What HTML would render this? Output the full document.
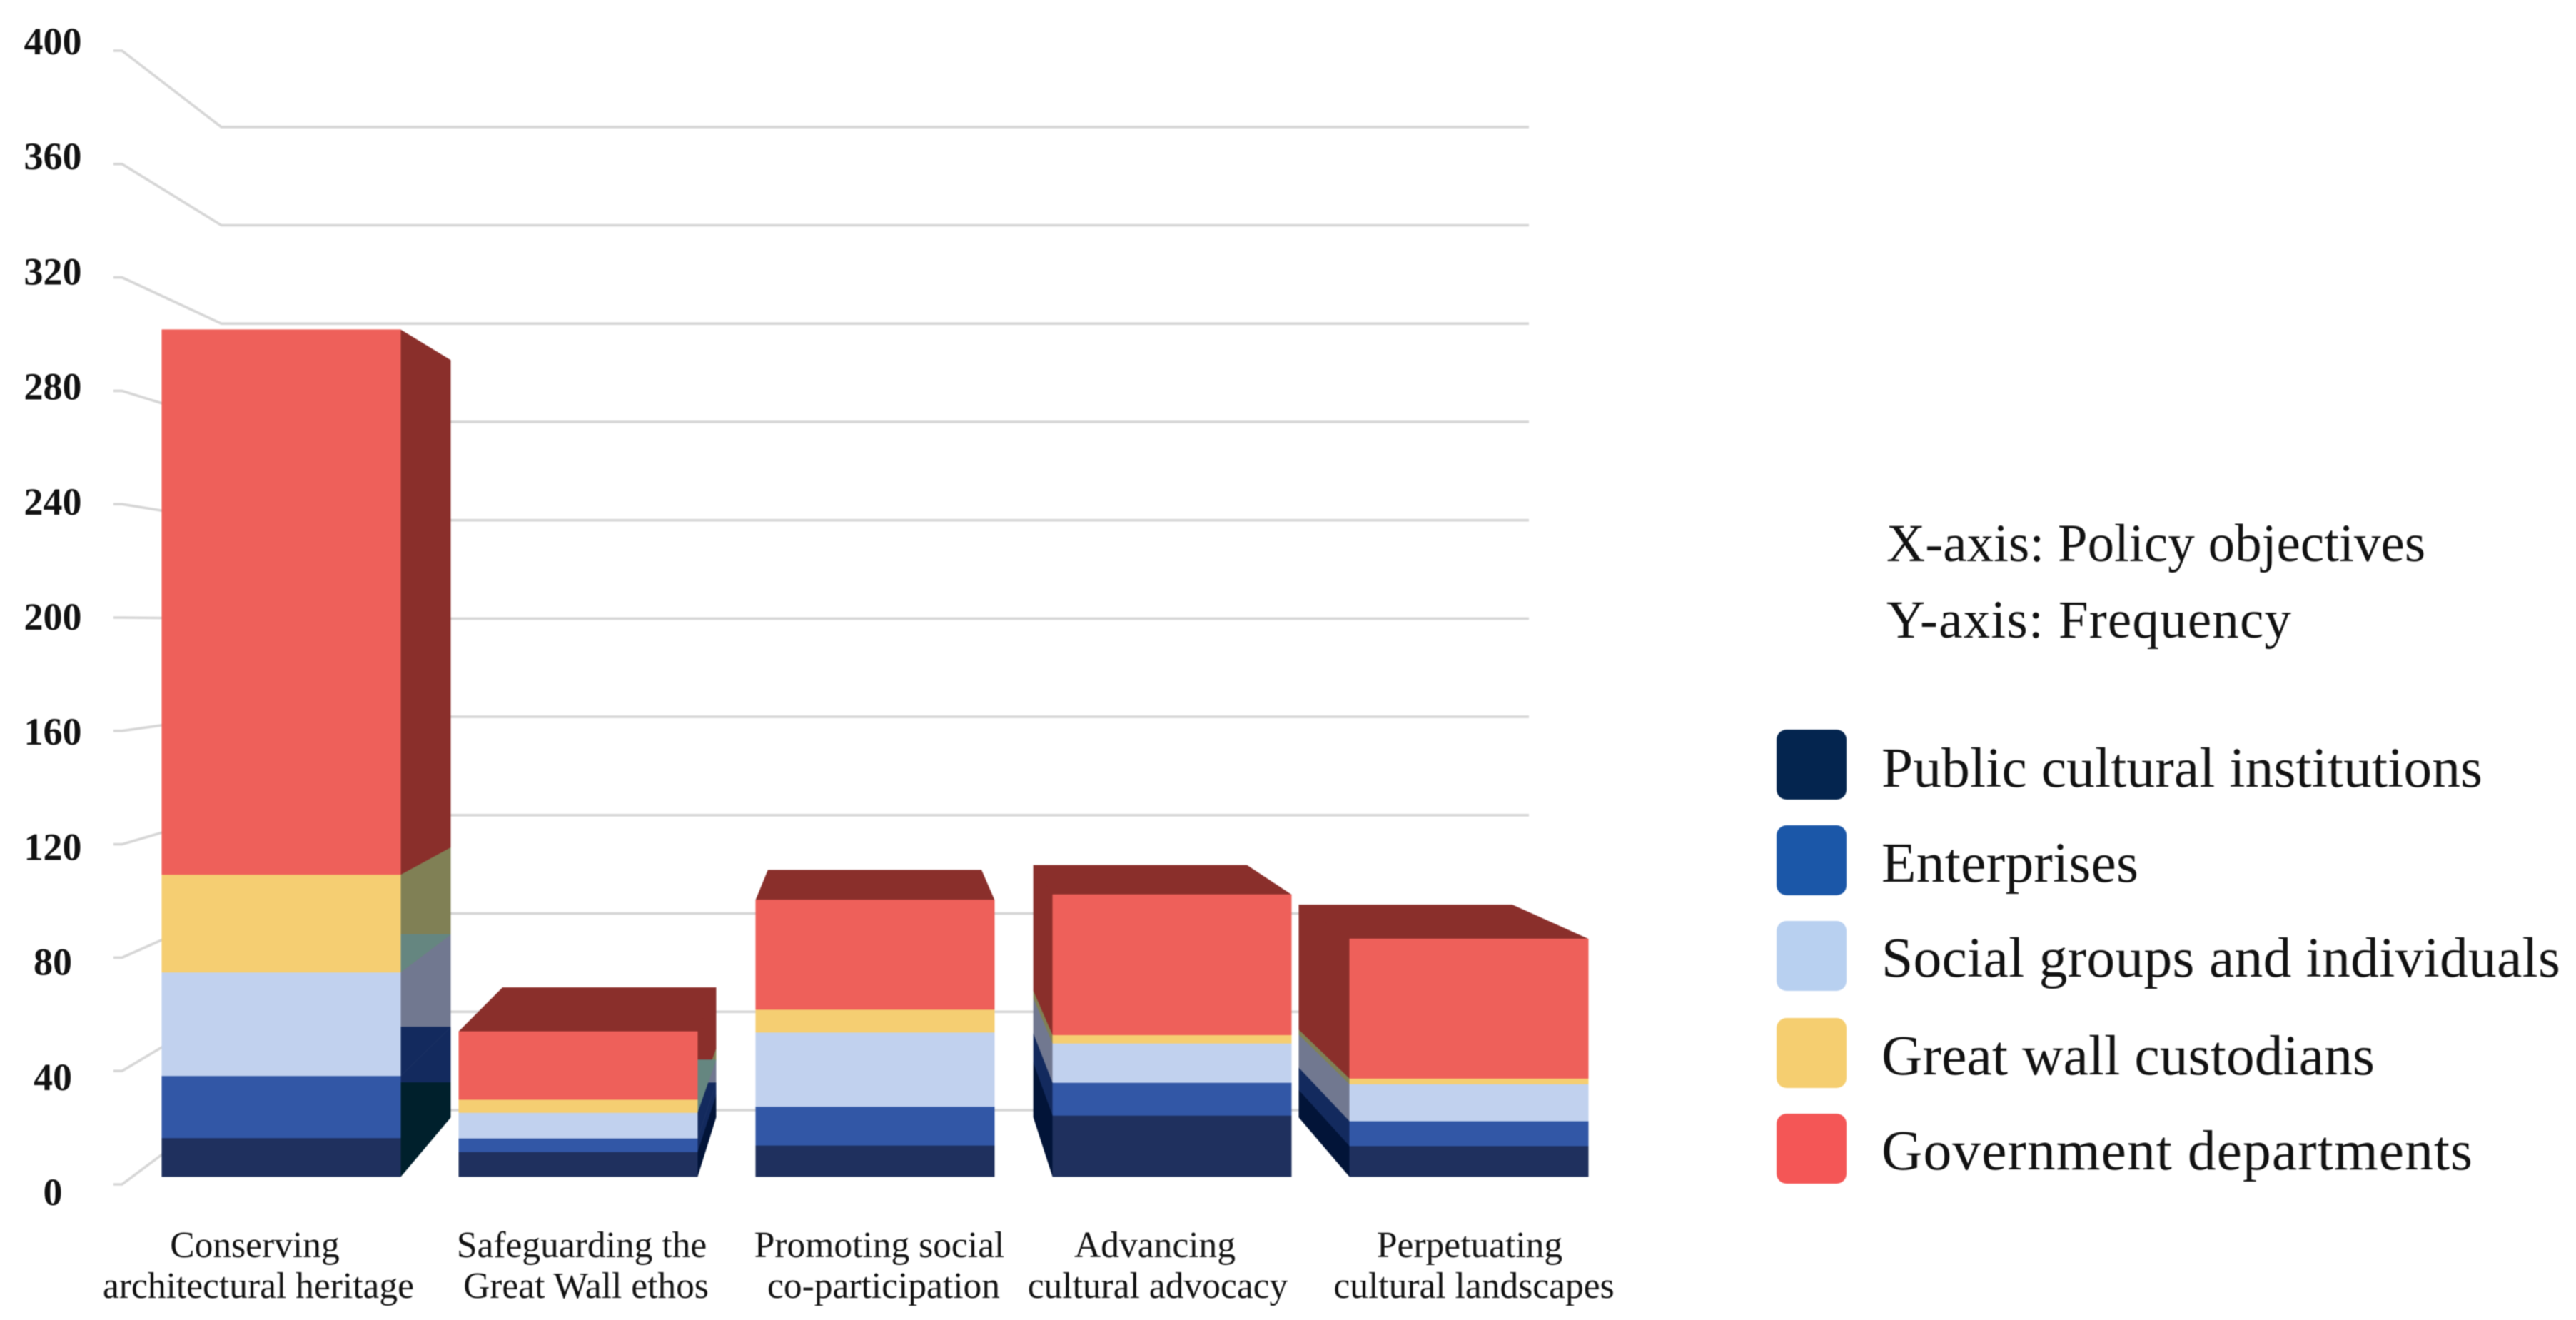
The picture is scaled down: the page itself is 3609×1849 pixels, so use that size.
<!DOCTYPE html>
<html lang="en">
<head>
<meta charset="utf-8">
<title>Policy objectives by actor</title>
<style>
html,body{margin:0;padding:0;background:#fff;}
svg{display:block;filter:blur(0.9px);}
text{font-family:"Liberation Serif",serif;fill:#111;}
</style>
</head>
<body>
<svg id="chart" xmlns="http://www.w3.org/2000/svg" width="3609" height="1849" viewBox="0 0 3609 1849">
  <rect width="3609" height="1849" fill="#ffffff"/>
  <g id="grid"></g>
  <g id="yticks"></g>
  <g id="bars"></g>
  <g id="xticks"></g>

  <g>
    <text x="2643" y="786" font-size="75" textLength="755" lengthAdjust="spacing">X-axis: Policy objectives</text>
    <text x="2643" y="893" font-size="75" textLength="567" lengthAdjust="spacing">Y-axis: Frequency</text>
  </g>

  <g>
    <g>
      <rect x="2489" y="1022" width="98" height="98" rx="14" fill="#04254f"/>
      <text x="2636" y="1102" font-size="79.5" textLength="842" lengthAdjust="spacing">Public cultural institutions</text>
    </g>
    <g>
      <rect x="2489" y="1156" width="98" height="98" rx="14" fill="#1b57a8"/>
      <text x="2636" y="1235" font-size="79.5" textLength="360" lengthAdjust="spacing">Enterprises</text>
    </g>
    <g>
      <rect x="2489" y="1290" width="98" height="98" rx="14" fill="#b8d0f0"/>
      <text x="2636" y="1368" font-size="79.5" textLength="951" lengthAdjust="spacing">Social groups and individuals</text>
    </g>
    <g>
      <rect x="2489" y="1426" width="98" height="98" rx="14" fill="#f5ce70"/>
      <text x="2636" y="1505" font-size="79.5" textLength="691" lengthAdjust="spacing">Great wall custodians</text>
    </g>
    <g>
      <rect x="2489" y="1560" width="98" height="98" rx="14" fill="#f45656"/>
      <text x="2636" y="1638" font-size="79.5" textLength="828" lengthAdjust="spacing">Government departments</text>
    </g>
  </g>
</svg>

<script>
// ---- data ----
const categoryFirstLines = ["Conserving", "Safeguarding the", "Promoting social", "Advancing", "Perpetuating"];
const categorySecondLines = ["architectural heritage", "Great Wall ethos", "co-participation", "cultural advocacy", "cultural landscapes"];
const seriesNames = ["public", "enterprises", "social", "custodians", "government"];
const publicValues = [13.7, 8.8, 11.1, 21.7, 10.9];
const enterpriseValues = [22.0, 4.8, 13.7, 11.6, 8.8];
const socialValues = [36.7, 9.1, 26.3, 13.9, 13.1];
const custodianValues = [34.6, 4.6, 8.1, 3.0, 2.0];
const governmentValues = [192.9, 24.0, 38.7, 49.6, 49.3];
const tickValues = [0, 40, 80, 120, 160, 200, 240, 280, 320, 360, 400];

// ---- styling and layout ----
const frontColors = ["#1f305e", "#3257a6", "#c1d1ee", "#f5ce72", "#ee605a"];
const sideColors = ["#021438", "#132a5e", "#717890", "#808055", "#8a2f2b"];
const overlapColors = ["#00202c", "#132a5e", "#658680", null, null];
const topColor = "#8a2f2b";
const SVG_NS = "http://www.w3.org/2000/svg";
const barBaseY = 1648, barScale = 3.955;
const bandStart = 394, bandStep = 416, barHalf = 167;
const vanishX = 1221, vanishY = 865, depth = 0.106;
const firstLineShift = [-37, 5, 6, -24, 1];
const secondLineShift = [-32, 11, 12, -20, 7];

// ---- axis functions ----
const yBar = v => barBaseY - v * barScale;
const xBar = i => bandStart + bandStep * i;
const backX = x => x + depth * (vanishX - x);
const backY = y => y + depth * (vanishY - y);
const wallFrontY = v => 1659 - 3.97 * v;
const wallBackY = v => 1555 - 3.443 * v;
const labelY = v => 1669 - 4.03 * v;

function polygon(parent, pts, fill) {
  const el = document.createElementNS(SVG_NS, "polygon");
  el.setAttribute("points", pts.map(p => p[0].toFixed(1) + "," + p[1].toFixed(1)).join(" "));
  el.setAttribute("fill", fill);
  el.setAttribute("stroke", fill);
  el.setAttribute("stroke-width", "1");
  el.setAttribute("stroke-linejoin", "round");
  parent.appendChild(el);
  return el;
}
function label(parent, str, x, y, size, weight) {
  const el = document.createElementNS(SVG_NS, "text");
  el.setAttribute("x", x);
  el.setAttribute("y", y);
  el.setAttribute("font-size", size);
  el.setAttribute("text-anchor", "middle");
  if (weight) el.setAttribute("font-weight", weight);
  el.textContent = str;
  parent.appendChild(el);
  return el;
}

// ---- gridlines ----
const gridGroup = document.getElementById("grid");
tickValues.forEach(v => {
  const line = document.createElementNS(SVG_NS, "polyline");
  const pts = [[159, wallFrontY(v)], [171, wallFrontY(v)], [310, wallBackY(v)], [2142, wallBackY(v)]];
  line.setAttribute("points", pts.map(p => p[0] + "," + p[1].toFixed(1)).join(" "));
  line.setAttribute("fill", "none");
  line.setAttribute("stroke", "#d6d6d6");
  line.setAttribute("stroke-width", "3.6");
  
  
  gridGroup.appendChild(line);
});

// ---- y tick labels ----
const yTickGroup = document.getElementById("yticks");
tickValues.forEach(v => {
  const t = label(yTickGroup, String(v), 74, labelY(v) + 19, 54, "bold");
  
  
});

// ---- bars ----
const allSeries = [publicValues, enterpriseValues, socialValues, custodianValues, governmentValues];
const barsGroup = document.getElementById("bars");
categoryFirstLines.forEach((_, i) => {
  const g = document.createElementNS(SVG_NS, "g");
  
  
  barsGroup.appendChild(g);

  const xl = xBar(i) - barHalf, xr = xBar(i) + barHalf;
  const sideX = xr < vanishX ? xr : (xl > vanishX ? xl : null);
  let cum = 0;
  const layers = allSeries.map((values, s) => {
    const bottom = yBar(cum);
    cum += values[i];
    return { s: s, bottom: bottom, top: yBar(cum) };
  });

  // side faces
  if (sideX !== null) {
    const bx = backX(sideX);
    const deepSide = Math.abs(bx - sideX) > 40;
    layers.forEach(l => {
      const side = polygon(g, [[sideX, l.top], [bx, backY(l.top)], [bx, backY(l.bottom)], [sideX, l.bottom]], sideColors[l.s]);
      
      
    });
    if (xr < vanishX) {
      layers.forEach(l => {
        if (!overlapColors[l.s]) return;
        if (l.s === 0 && !deepSide) return;
        const tri = polygon(g, [[sideX, backY(l.top)], [bx, backY(l.top)], [sideX, l.top]], overlapColors[l.s]);
        
        
      });
      if (deepSide) {
        const l = layers[0];
        const fill = polygon(g, [[sideX, l.top], [bx, backY(l.top)], [bx, backY(l.bottom)], [sideX, l.bottom]], overlapColors[0]);
        
        
      }
    }
  }

  // top face
  const topY = layers[layers.length - 1].top;
  if (topY > vanishY) {
    const topFace = polygon(g, [[xl, topY], [backX(xl), backY(topY)], [backX(xr), backY(topY)], [xr, topY]], topColor);
    
    
  }

  // front faces
  layers.forEach(l => {
    const seg = polygon(g, [[xl, l.top], [xr, l.top], [xr, l.bottom], [xl, l.bottom]], frontColors[l.s]);
    
    
  });
});

// ---- x tick labels ----
const xTickGroup = document.getElementById("xticks");
categoryFirstLines.forEach((first, i) => {
  const a = label(xTickGroup, first, xBar(i) + firstLineShift[i], 1761, 51.5);
  
  
  const b = label(xTickGroup, categorySecondLines[i], xBar(i) + secondLineShift[i], 1818, 51.5);
  
  
});
</script>
</body>
</html>
